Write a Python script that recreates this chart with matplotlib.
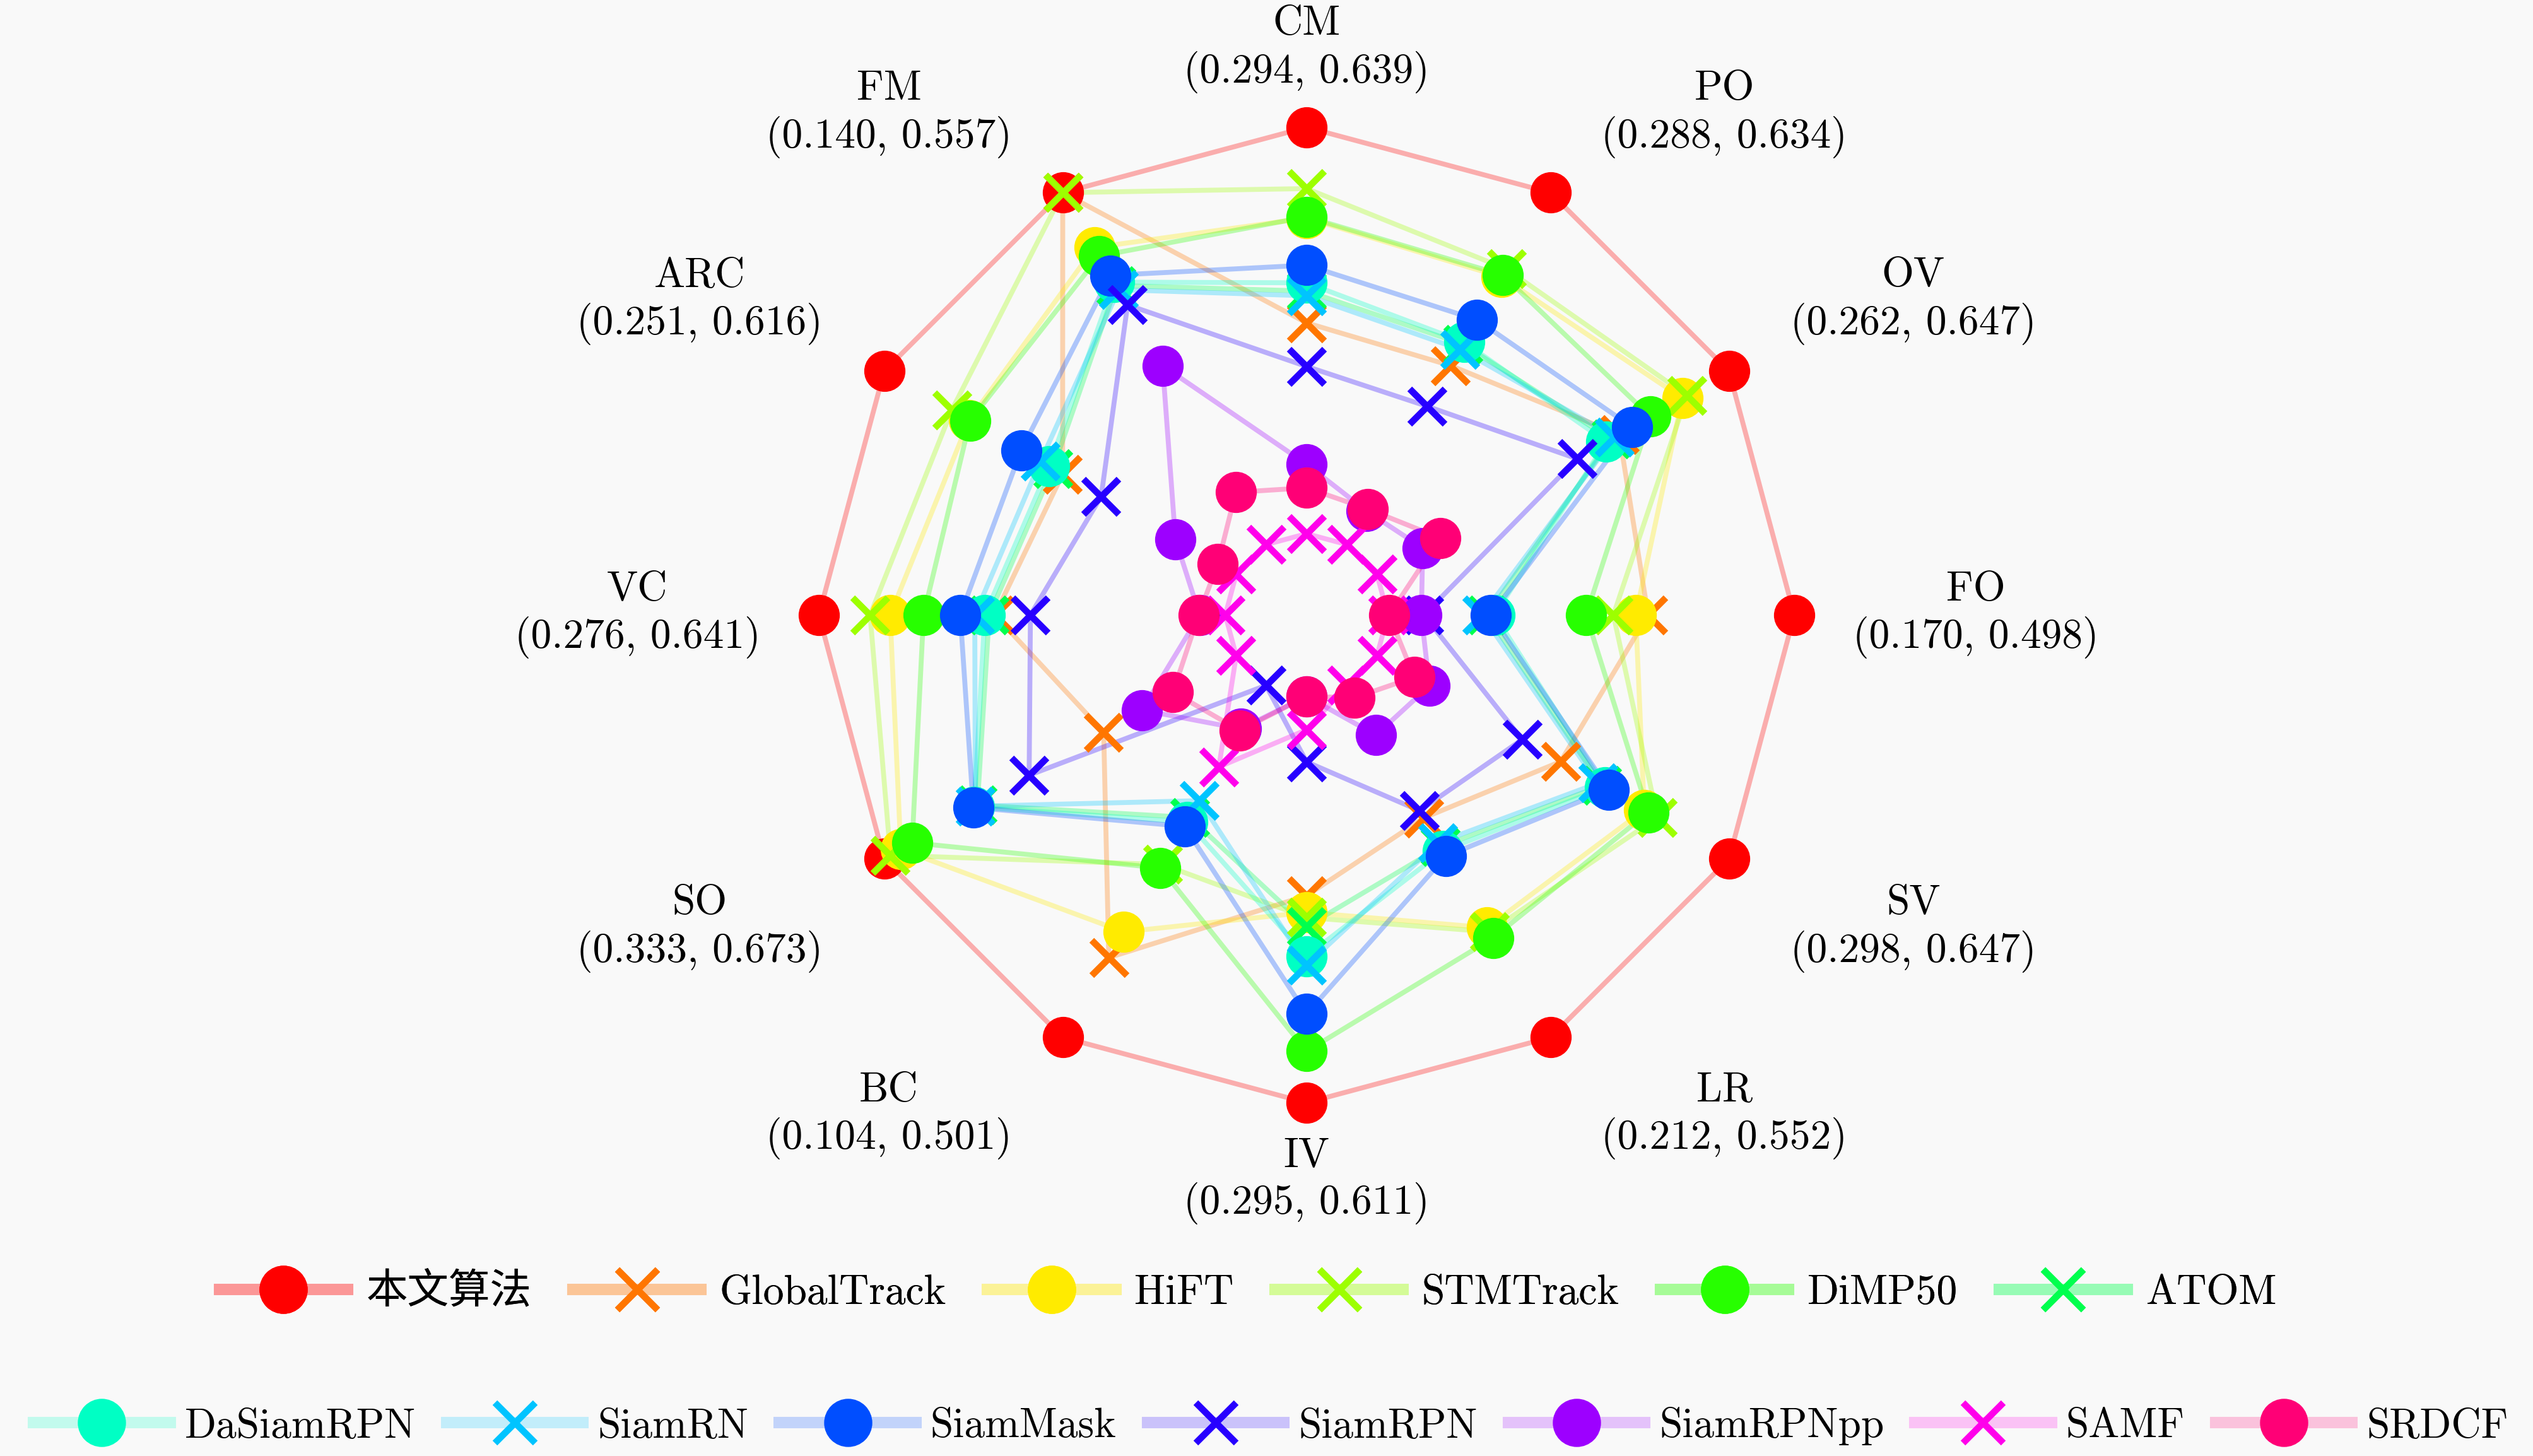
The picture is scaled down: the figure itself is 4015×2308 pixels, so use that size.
import colorsys
import numpy as np
import matplotlib.pyplot as plt
from matplotlib.lines import Line2D

plt.rcParams['font.family'] = ['cmr10', 'Noto Sans CJK SC']
plt.rcParams['axes.formatter.use_mathtext'] = True

# attribute axes, clockwise from the top, with their (min, max) score
attributes = ['CM', 'PO', 'OV', 'FO', 'SV', 'LR', 'IV', 'BC', 'SO', 'VC', 'ARC', 'FM']
range_lo = [0.294, 0.288, 0.262, 0.170, 0.298, 0.212, 0.295, 0.104, 0.333, 0.276, 0.251, 0.140]
range_hi = [0.639, 0.634, 0.647, 0.498, 0.647, 0.552, 0.611, 0.501, 0.673, 0.641, 0.616, 0.557]

trackers = ['本文算法', 'GlobalTrack', 'HiFT', 'STMTrack', 'DiMP50', 'ATOM', 'DaSiamRPN',
            'SiamRN', 'SiamMask', 'SiamRPN', 'SiamRPNpp', 'SAMF', 'SRDCF']

# scores per attribute, same order as `attributes`
ours        = [0.639, 0.634, 0.647, 0.498, 0.647, 0.552, 0.611, 0.501, 0.673, 0.641, 0.616, 0.557]
globaltrack = [0.473, 0.464, 0.527, 0.380, 0.480, 0.340, 0.450, 0.411, 0.461, 0.483, 0.431, 0.557]
hift        = [0.562, 0.551, 0.596, 0.370, 0.563, 0.446, 0.463, 0.382, 0.657, 0.577, 0.528, 0.492]
stmtrack    = [0.587, 0.559, 0.601, 0.352, 0.576, 0.450, 0.467, 0.306, 0.667, 0.595, 0.546, 0.557]
dimp50      = [0.563, 0.553, 0.561, 0.330, 0.567, 0.456, 0.571, 0.310, 0.646, 0.547, 0.527, 0.482]
atom        = [0.500, 0.485, 0.518, 0.250, 0.521, 0.368, 0.474, 0.253, 0.583, 0.488, 0.441, 0.447]
dasiamrpn   = [0.507, 0.487, 0.513, 0.256, 0.524, 0.372, 0.497, 0.258, 0.586, 0.492, 0.445, 0.451]
siamrn      = [0.496, 0.480, 0.522, 0.246, 0.517, 0.364, 0.504, 0.234, 0.585, 0.501, 0.454, 0.442]
siammask    = [0.522, 0.509, 0.541, 0.253, 0.528, 0.377, 0.542, 0.263, 0.587, 0.514, 0.474, 0.459]
siamrpn     = [0.436, 0.424, 0.481, 0.199, 0.442, 0.333, 0.346, 0.104, 0.533, 0.451, 0.391, 0.424]
siamrpnpp   = [0.353, 0.321, 0.312, 0.197, 0.350, 0.260, 0.295, 0.153, 0.424, 0.299, 0.314, 0.352]
samf        = [0.294, 0.288, 0.262, 0.170, 0.298, 0.212, 0.321, 0.196, 0.333, 0.276, 0.251, 0.140]
srdcf       = [0.333, 0.323, 0.331, 0.171, 0.335, 0.224, 0.295, 0.155, 0.394, 0.300, 0.270, 0.202]

scores = [ours, globaltrack, hift, stmtrack, dimp50, atom, dasiamrpn,
          siamrn, siammask, siamrpn, siamrpnpp, samf, srdcf]

bg = '#f9f9f9'
fs = 23.6
n_ax = len(attributes)
theta = np.arange(n_ax) * 2 * np.pi / n_ax
theta_closed = np.append(theta, theta[0])
lo = np.array(range_lo)
hi = np.array(range_hi)

colors = [colorsys.hsv_to_rgb(i / len(trackers), 1, 1) for i in range(len(trackers))]
markers = ['o' if i % 2 == 0 else 'x' for i in range(len(trackers))]

fig = plt.figure(figsize=(20.08, 11.54), dpi=200, facecolor=bg)
ax = fig.add_axes([0.3232, 0.2426, 0.385, 0.670], projection='polar')
ax.set_theta_zero_location('N')
ax.set_theta_direction(-1)
ax.set_ylim(-0.2, 1.0)
ax.set_facecolor('none')
ax.axis('off')

# lines first, then markers on top
for k, vals in enumerate(scores):
    norm = (np.array(vals) - lo) / (hi - lo)
    ax.plot(theta_closed, np.append(norm, norm[0]), color=colors[k] + (0.3,),
            lw=2.8, zorder=2, clip_on=False)
for k, vals in enumerate(scores):
    norm = (np.array(vals) - lo) / (hi - lo)
    if markers[k] == 'o':
        ax.plot(theta, norm, ls='none', marker='o', ms=23, color=colors[k],
                mec=colors[k], mew=0.5, zorder=3, clip_on=False)
    else:
        ax.plot(theta, norm, ls='none', marker='x', ms=20, color=colors[k],
                mew=3.8, zorder=3, clip_on=False)

# attribute labels around the chart
for i, name in enumerate(attributes):
    a = np.pi / 2 - theta[i]
    cx = 1.372 * np.sign(np.round(np.cos(a), 6)) * abs(np.cos(a)) ** 0.68
    cy = 1.160 * np.sign(np.round(np.sin(a), 6)) * abs(np.sin(a)) ** 0.85
    dist = np.hypot(cx, cy)
    t = np.pi / 2 - np.arctan2(cy, cx)
    ax.text(t, -0.2 + 1.2 * dist, f'{name}\n({range_lo[i]:.3f}, {range_hi[i]:.3f})',
            ha='center', va='center', fontsize=fs, linespacing=1.25, clip_on=False)

# legend: two rows
handles = []
for k, name in enumerate(trackers):
    handles.append(Line2D([], [], color=colors[k] + (0.22,), lw=6.5, marker=markers[k],
                          ms=27 if markers[k] == 'o' else 23, mfc=colors[k], mec=colors[k],
                          mew=0.5 if markers[k] == 'o' else 3.8, label=name))

leg1 = fig.legend(handles=handles[:6], loc='center', bbox_to_anchor=(0.4926, 0.1122),
                  ncol=6, frameon=False, fontsize=fs, handlelength=3.1,
                  handletextpad=0.45, columnspacing=1.0)
fig.add_artist(leg1)
fig.legend(handles=handles[6:], loc='center', bbox_to_anchor=(0.5016, 0.0204),
           ncol=7, frameon=False, fontsize=fs, handlelength=3.3,
           handletextpad=0.35, columnspacing=0.75)

fig.savefig('out.png', dpi=200, facecolor=bg)
